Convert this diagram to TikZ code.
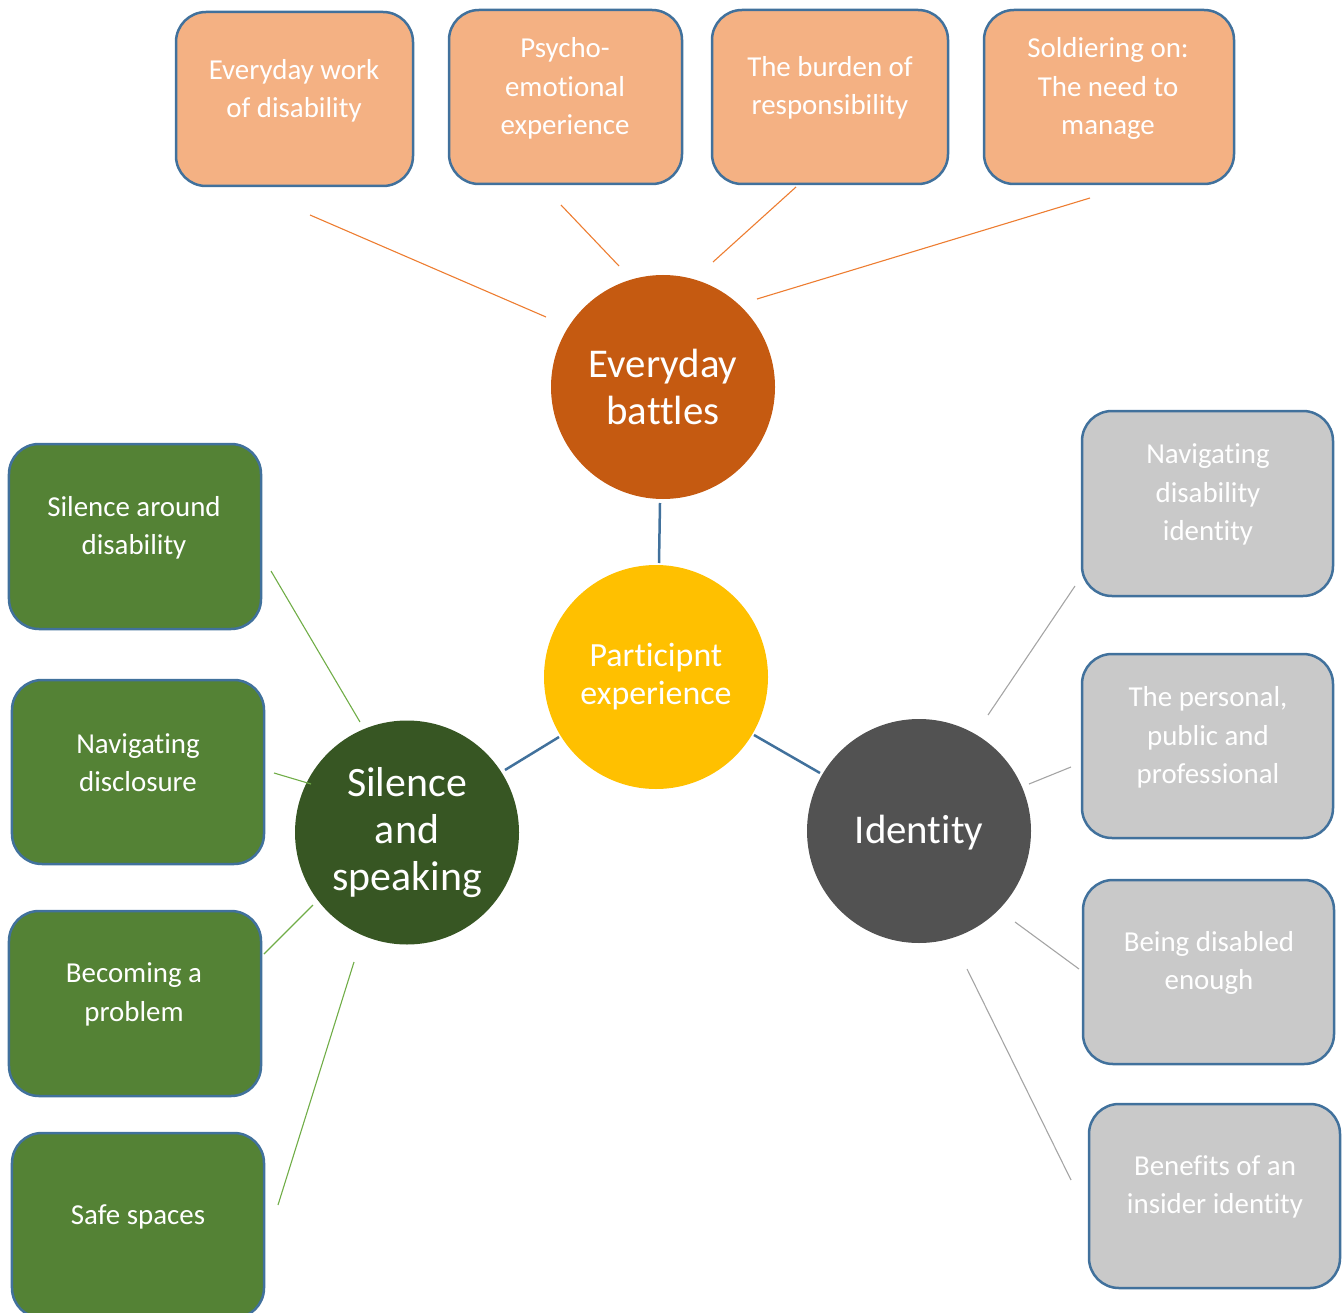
\documentclass[tikz,border=0pt]{standalone}
\usepackage{fontspec}
\setmainfont{Carlito}[Ligatures=NoCommon, RawFeature={-liga;-clig;-calt}]
\definecolor{peach}{HTML}{F4B183}
\definecolor{rust}{HTML}{C55A11}
\definecolor{amber}{HTML}{FFC000}
\definecolor{leaf}{HTML}{548235}
\definecolor{forest}{HTML}{375623}
\definecolor{silver}{HTML}{C9C9C9}
\definecolor{graphite}{HTML}{525252}
\definecolor{edge}{HTML}{41719C}
\definecolor{orangeln}{HTML}{ED7D31}
\definecolor{greenln}{HTML}{70AD47}
\definecolor{grayln}{HTML}{A5A5A5}
\begin{document}
\begin{tikzpicture}[x=1bp,y=-1bp,
  card/.style={draw=edge, line width=2.5bp, rounded corners=30bp, inner sep=0pt,
               minimum width=237bp, minimum height=174bp},
  wide/.style={card, minimum width=250bp},
  cardtext/.style={text=white, align=center, inner sep=0pt, yshift=-1.5bp,
                   font=\fontsize{29}{38.5}\selectfont},
  hub/.style={circle, minimum size=224bp, inner sep=0pt, text=white, align=center,
              font=\fontsize{41}{47.5}\selectfont},
  olink/.style={draw=orangeln, line width=1.1bp},
  glink/.style={draw=greenln, line width=1.1bp},
  slink/.style={draw=grayln, line width=1.1bp},
  blink/.style={draw=edge, line width=2.5bp}]
\useasboundingbox (0,0) rectangle (1343,1313);
\clip (0,0) rectangle (1343,1313);

% central hubs
\node[hub, fill=rust] (eb) at (663,387) {Everyday\\battles};
\node[hub, fill=amber, font=\fontsize{34}{38}\selectfont] (pe) at (656,677) {Participnt\\experience};
\node[hub, fill=forest, font=\fontsize{42}{47.5}\selectfont] (ss) at (407,832.5) {Silence\\and\\speaking};
\node[hub, fill=graphite] (id) at (919,831) {};
\node[text=white, inner sep=0pt, font=\fontsize{41}{47.5}\selectfont] (idt) at (919,833) {Identity};

% everyday battles themes
\node[card, fill=peach] (ew) at (294.5,99) {};
\node[cardtext] (ewt) at (294,89.5) {Everyday work\\of disability};
\node[card, fill=peach, minimum width=233bp] (pse) at (565.5,97) {};
\node[cardtext] (pset) at (565,87) {Psycho-\\emotional\\experience};
\node[card, fill=peach, minimum width=236bp] (br) at (830,97) {};
\node[cardtext] (brt) at (830,86) {The burden of\\responsibility};
\node[wide, fill=peach] (so) at (1109,97) {};
\node[cardtext] (sot) at (1108,87) {Soldiering on:\\The need to\\manage};

% silence and speaking themes
\node[wide, fill=leaf, minimum width=252bp, minimum height=185bp] (sa) at (135,536.5) {};
\node[cardtext] (sat) at (134,526) {Silence around\\disability};
\node[wide, fill=leaf, minimum width=252bp, minimum height=184bp] (nd) at (138,772) {};
\node[cardtext] (ndt) at (138,761) {Navigating\\disclosure};
\node[wide, fill=leaf, minimum width=252bp, minimum height=185bp] (bp) at (135,1003.5) {};
\node[cardtext] (bpt) at (134,993) {Becoming a\\problem};
\node[wide, fill=leaf, minimum width=252bp, minimum height=185bp] (sp) at (138,1225.5) {};
\node[cardtext] (spt) at (138,1215) {Safe spaces};

% identity themes
\node[wide, fill=silver, minimum width=251bp, minimum height=185bp] (ndi) at (1207.5,503.5) {};
\node[cardtext] (ndit) at (1208,493) {Navigating\\disability\\identity};
\node[wide, fill=silver, minimum width=251bp, minimum height=184bp] (ppp) at (1207.5,746) {};
\node[cardtext] (pppt) at (1208,736) {The personal,\\public and\\professional};
\node[wide, fill=silver, minimum width=251bp, minimum height=184bp] (bde) at (1208.5,972) {};
\node[cardtext] (bdet) at (1209,961.5) {Being disabled\\enough};
\node[wide, fill=silver, minimum width=251bp, minimum height=184bp] (bii) at (1214.5,1196) {};
\node[cardtext] (biit) at (1215,1185.5) {Benefits of an\\insider identity};

% connector end points
\coordinate (o1a) at (310,215);  \coordinate (o1b) at (546,317);
\coordinate (o2a) at (561,205);  \coordinate (o2b) at (619,266);
\coordinate (o3a) at (796,187);  \coordinate (o3b) at (713,262);
\coordinate (o4a) at (1090,198); \coordinate (o4b) at (757,299);
\coordinate (b1a) at (660,503);  \coordinate (b1b) at (659,563);
\coordinate (b2a) at (559,737);  \coordinate (b2b) at (505,770);
\coordinate (b3a) at (754,735);  \coordinate (b3b) at (820,773);
\coordinate (g1a) at (271,571);  \coordinate (g1b) at (360,722);
\coordinate (g2a) at (274,773);  \coordinate (g2b) at (311,784);
\coordinate (g3a) at (264,954);  \coordinate (g3b) at (313,905);
\coordinate (g4a) at (354,962);  \coordinate (g4b) at (278,1205);
\coordinate (s1a) at (1075,586); \coordinate (s1b) at (988,715);
\coordinate (s2a) at (1071,767); \coordinate (s2b) at (1029,784);
\coordinate (s3a) at (1015,922); \coordinate (s3b) at (1079,969);
\coordinate (s4a) at (967,969);  \coordinate (s4b) at (1071,1180);

% connectors
\draw[olink] (o1a) -- (o1b);
\draw[olink] (o2a) -- (o2b);
\draw[olink] (o3a) -- (o3b);
\draw[olink] (o4a) -- (o4b);
\draw[blink] (b1a) -- (b1b);
\draw[blink] (b2a) -- (b2b);
\draw[blink] (b3a) -- (b3b);
\draw[glink] (g1a) -- (g1b);
\draw[glink] (g2a) -- (g2b);
\draw[glink] (g3a) -- (g3b);
\draw[glink] (g4a) -- (g4b);
\draw[slink] (s1a) -- (s1b);
\draw[slink] (s2a) -- (s2b);
\draw[slink] (s3a) -- (s3b);
\draw[slink] (s4a) -- (s4b);
\end{tikzpicture}
\end{document}
